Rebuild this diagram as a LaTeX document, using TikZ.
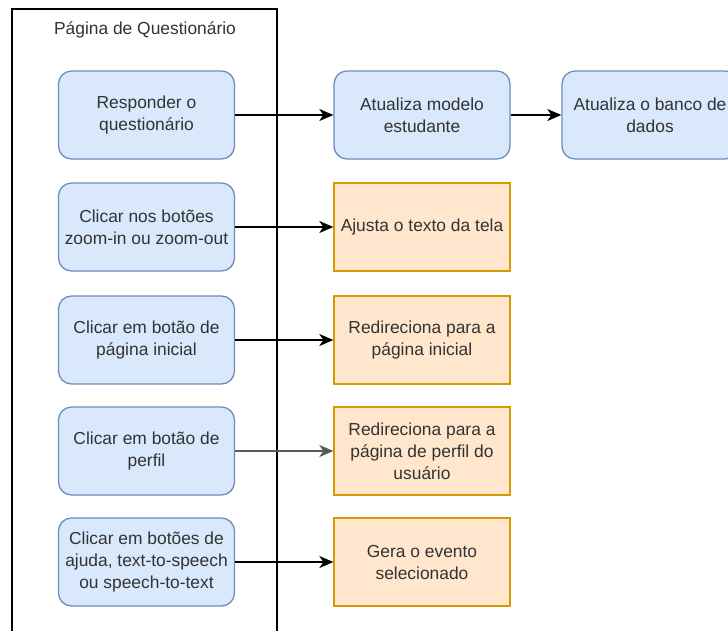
\documentclass[tikz,border=0pt]{standalone}
\usepackage{fontspec}
\setmainfont{Liberation Sans}
\usetikzlibrary{arrows.meta}

\definecolor{bluefill}{HTML}{DAE8FC}
\definecolor{bluedraw}{HTML}{6C8EBF}
\definecolor{orfill}{HTML}{FFE6CC}
\definecolor{ordraw}{HTML}{D79B00}
\definecolor{txt}{HTML}{333333}

\tikzset{
  acao/.style={draw=bluedraw, fill=bluefill, line width=1.3pt, rounded corners=13pt,
    minimum width=176pt, minimum height=88pt, align=center, text=txt, inner sep=0pt},
  efeito/.style={draw=ordraw, fill=orfill, line width=1.3pt,
    minimum width=176pt, minimum height=88pt, align=center, text=txt, inner sep=0pt},
  liga/.style={-{Stealth[length=14pt,width=12pt,inset=4pt]}, line width=1.5pt}
}

\begin{document}
\begin{tikzpicture}[x=1pt, y=-1pt, font=\fontsize{17.4}{22}\selectfont]
\useasboundingbox (0,0) rectangle (728,630);
\clip (0,0) rectangle (728,630);
\fill[white] (0,0) rectangle (728,630);

% moldura da pagina
\draw [line width=1.3pt] (12,660) -- (12,9) -- (277,9) -- (277,660);
\node (titulo) at (145,30) [text=txt] {Página de Questionário};

% acoes do usuario
\node (resp) at (146.5,115) [acao] {Responder o\\questionário};
\node (zoom) at (146.5,227) [acao] {Clicar nos botões\\zoom-in ou zoom-out};
\node (ini)  at (146.5,340) [acao] {Clicar em botão de\\página inicial};
\node (perf) at (146.5,451) [acao] {Clicar em botão de\\perfil};
\node (ajud) at (146.5,562) [acao] {Clicar em botões de\\ajuda, text-to-speech\\ou speech-to-text};

% respostas do sistema
\node (model) at (422,115) [acao] {Atualiza modelo\\estudante};
\node (banco) at (650,115) [acao] {Atualiza o banco de\\dados};
\node (texto) at (422,227) [efeito] {Ajusta o texto da tela};
\node (rini)  at (422,340) [efeito] {Redireciona para a\\página inicial};
\node (rperf) at (422,451) [efeito] {Redireciona para a\\página de perfil do\\usuário};
\node (evt)   at (422,562) [efeito] {Gera o evento\\selecionado};

\draw [liga] (resp) -- (model);
\draw [liga] (model) -- (banco);
\draw [liga] (zoom) -- (texto);
\draw [liga] (ini) -- (rini);
\draw [liga, draw=black!65, fill=black!65] (perf) -- (rperf);
\draw [liga] (ajud) -- (evt);
\end{tikzpicture}
\end{document}
